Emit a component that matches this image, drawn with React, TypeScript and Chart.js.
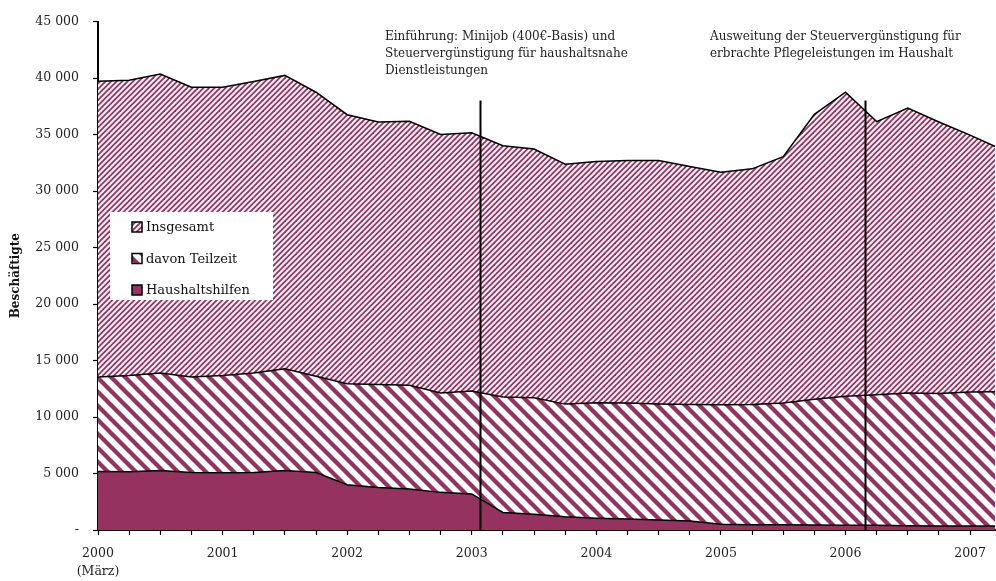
import React, { useEffect, useRef } from "react";
import { Chart, registerables } from "chart.js";

Chart.register(...registerables);

// Quarterly observations (decimal year), first = März 2000
const quarters = [
  2000, 2000.25, 2000.5, 2000.75, 2001, 2001.25, 2001.5, 2001.75,
  2002, 2002.25, 2002.5, 2002.75, 2003, 2003.25, 2003.5, 2003.75,
  2004, 2004.25, 2004.5, 2004.75, 2005, 2005.25, 2005.5, 2005.75,
  2006, 2006.25, 2006.5, 2006.75, 2007, 2007.25,
];

const insgesamt = [
  39710, 39800, 40350, 39180, 39180, 39700, 40230, 38740,
  36750, 36110, 36170, 35000, 35150, 34000, 33710, 32370,
  32600, 32690, 32690, 32160, 31670, 31960, 33040, 36780,
  38740, 36140, 37340, 36110, 34940, 33690,
];

const teilzeit = [
  13540, 13680, 13890, 13540, 13680, 13890, 14270, 13600,
  12950, 12870, 12810, 12130, 12310, 11780, 11700, 11140,
  11260, 11230, 11140, 11110, 11080, 11110, 11230, 11580,
  11840, 11960, 12130, 12080, 12220, 12250,
];

const haushaltshilfen = [
  5175, 5150, 5260, 5090, 5060, 5090, 5260, 5090,
  4010, 3770, 3630, 3330, 3190, 1550, 1400, 1170,
  1050, 965, 880, 790, 500, 470, 470, 440,
  410, 410, 380, 350, 350, 350,
];

const seriesNames = ["Insgesamt", "davon Teilzeit", "Haushaltshilfen"];
const yTicks = [0, 5000, 10000, 15000, 20000, 25000, 30000, 35000, 40000, 45000];
const yearLabels = ["2000", "2001", "2002", "2003", "2004", "2005", "2006", "2007"];

const eventDates = [2003.07, 2006.16];
const eventTop = 38000;
const eventTexts = [
  ["Einführung: Minijob (400€-Basis) und", "Steuervergünstigung für haushaltsnahe", "Dienstleistungen"],
  ["Ausweitung der Steuervergünstigung für", "erbrachte Pflegeleistungen im Haushalt"],
];

const MAROON = "#96325f";
const FONT = "'DejaVu Serif', 'Liberation Serif', serif";

// tile: size of repeating tile, period: horizontal stripe period, lw: perpendicular line width
function stripePattern(
  ctx: CanvasRenderingContext2D,
  tile: number,
  period: number,
  lw: number,
  dir: "/" | "\\",
  bg: string
) {
  const c = document.createElement("canvas");
  c.width = tile;
  c.height = tile;
  const g = c.getContext("2d")!;
  g.fillStyle = bg;
  g.fillRect(0, 0, tile, tile);
  g.strokeStyle = MAROON;
  g.lineWidth = lw;
  const T = tile;
  for (let k = -3 * T; k <= 3 * T + 0.001; k += period) {
    g.beginPath();
    if (dir === "/") {
      // x + y = k
      g.moveTo(-T, k + T);
      g.lineTo(2 * T, k - 2 * T);
    } else {
      // x - y = k
      g.moveTo(-T, -T - k);
      g.lineTo(2 * T, 2 * T - k);
    }
    g.stroke();
  }
  return ctx.createPattern(c, "repeat")!;
}

function fmt(v: number) {
  if (v === 0) return "-";
  const s = String(Math.round(v));
  return s.replace(/\B(?=(\d{3})+(?!\d))/g, " ");
}

export default function App() {
  const ref = useRef<HTMLCanvasElement | null>(null);

  useEffect(() => {
    const canvas = ref.current!;
    const ctx = canvas.getContext("2d")!;
    const patTotal = stripePattern(ctx, 11, 5.5, 1.8, "/", "#fbf3f7");
    const patPart = stripePattern(ctx, 14, 14, 4.3, "\\", "#ffffff");
    const fills = [patTotal, patPart, MAROON];

    const overlay = {
      id: "overlay",
      afterDatasetsDraw(chart: any) {
        const c = chart.ctx as CanvasRenderingContext2D;
        const xs = chart.scales.x;
        const ys = chart.scales.y;
        c.save();
        // event lines
        c.strokeStyle = "#000";
        c.lineWidth = 2;
        eventDates.forEach((d) => {
          const px = Math.round(xs.getPixelForValue(d)) + 0.5;
          c.beginPath();
          c.moveTo(px, ys.getPixelForValue(eventTop));
          c.lineTo(px, ys.getPixelForValue(0));
          c.stroke();
        });
        // event texts
        c.fillStyle = "#222";
        c.font = `12px ${FONT}`;
        c.textBaseline = "middle";
        c.textAlign = "left";
        const textX = [385, 710];
        eventTexts.forEach((lines, i) => {
          lines.forEach((t, j) => {
            c.fillText(t, textX[i], 37 + j * 17);
          });
        });
        // legend
        const lx = 110, ly = 212, lw = 163, lh = 88;
        c.fillStyle = "#fff";
        c.fillRect(lx, ly, lw, lh);
        c.font = `13px ${FONT}`;
        seriesNames.forEach((name, i) => {
          const cy = 227 + i * 31.5;
          c.fillStyle = fills[i] as any;
          c.fillRect(132, cy - 5, 10, 10);
          c.strokeStyle = "#000";
          c.lineWidth = 1.5;
          c.strokeRect(132, cy - 5, 10, 10);
          c.fillStyle = "#111";
          c.fillText(name, 146, cy + 1);
        });
        c.restore();
      },
    };

    const chart = new Chart(canvas, {
      type: "line",
      data: {
        datasets: [insgesamt, teilzeit, haushaltshilfen].map((arr, i) => ({
          label: seriesNames[i],
          data: arr.map((v, k) => ({ x: quarters[k], y: v })),
          fill: "origin",
          backgroundColor: fills[i] as any,
          borderColor: "#000",
          borderWidth: 1.5,
          pointRadius: 0,
          tension: 0,
          order: 3 - i,
        })),
      },
      options: {
        animation: false,
        responsive: false,
        devicePixelRatio: 1,
        layout: { padding: { top: 17, right: 0, left: 0, bottom: 0 } },
        plugins: { legend: { display: false }, tooltip: { enabled: false } },
        scales: {
          x: {
            type: "linear",
            min: 2000,
            max: 2007.2,
            z: 1,
            afterBuildTicks: (s: any) => {
              s.ticks = quarters.filter((q) => q <= 2007).map((q) => ({ value: q }));
            },
            afterFit: (s: any) => {
              s.height = 51;
            },
            ticks: {
              autoSkip: false,
              maxRotation: 0,
              padding: 10,
              color: "#222",
              font: { family: FONT, size: 12.5, lineHeight: 1.45 },
              callback: (v: any) => {
                const n = Number(v);
                if (Math.abs(n - Math.round(n)) > 1e-6) return "";
                const lbl = yearLabels[Math.round(n) - 2000];
                return Math.round(n) === 2000 ? [lbl, "(März)"] : lbl;
              },
            },
            grid: { drawOnChartArea: false, tickLength: 5, color: "#000", tickWidth: 1.2 },
            border: { color: "#000", width: 2 },
          },
          y: {
            min: 0,
            max: 45000,
            z: 1,
            afterBuildTicks: (s: any) => {
              s.ticks = yTicks.map((v) => ({ value: v }));
            },
            afterFit: (s: any) => {
              s.width = 98;
            },
            ticks: {
              padding: 14,
              color: "#222",
              font: { family: FONT, size: 12.5 },
              callback: (v: any) => fmt(Number(v)),
            },
            grid: { drawOnChartArea: false, tickLength: 5, color: "#000", tickWidth: 1.2 },
            border: { color: "#000", width: 2 },
            title: {
              display: true,
              text: "Beschäftigte",
              color: "#111",
              font: { family: FONT, size: 12, weight: "bold" },
              padding: { top: 9, bottom: 0 },
            },
          },
        },
      },
      plugins: [overlay],
    } as any);

    return () => chart.destroy();
  }, []);

  return (
    <div style={{ position: "fixed", left: 0, top: 0, width: 996, height: 581, background: "#fff" }}>
      <canvas ref={ref} width={996} height={581} style={{ display: "block", width: 996, height: 581 }} />
    </div>
  );
}
